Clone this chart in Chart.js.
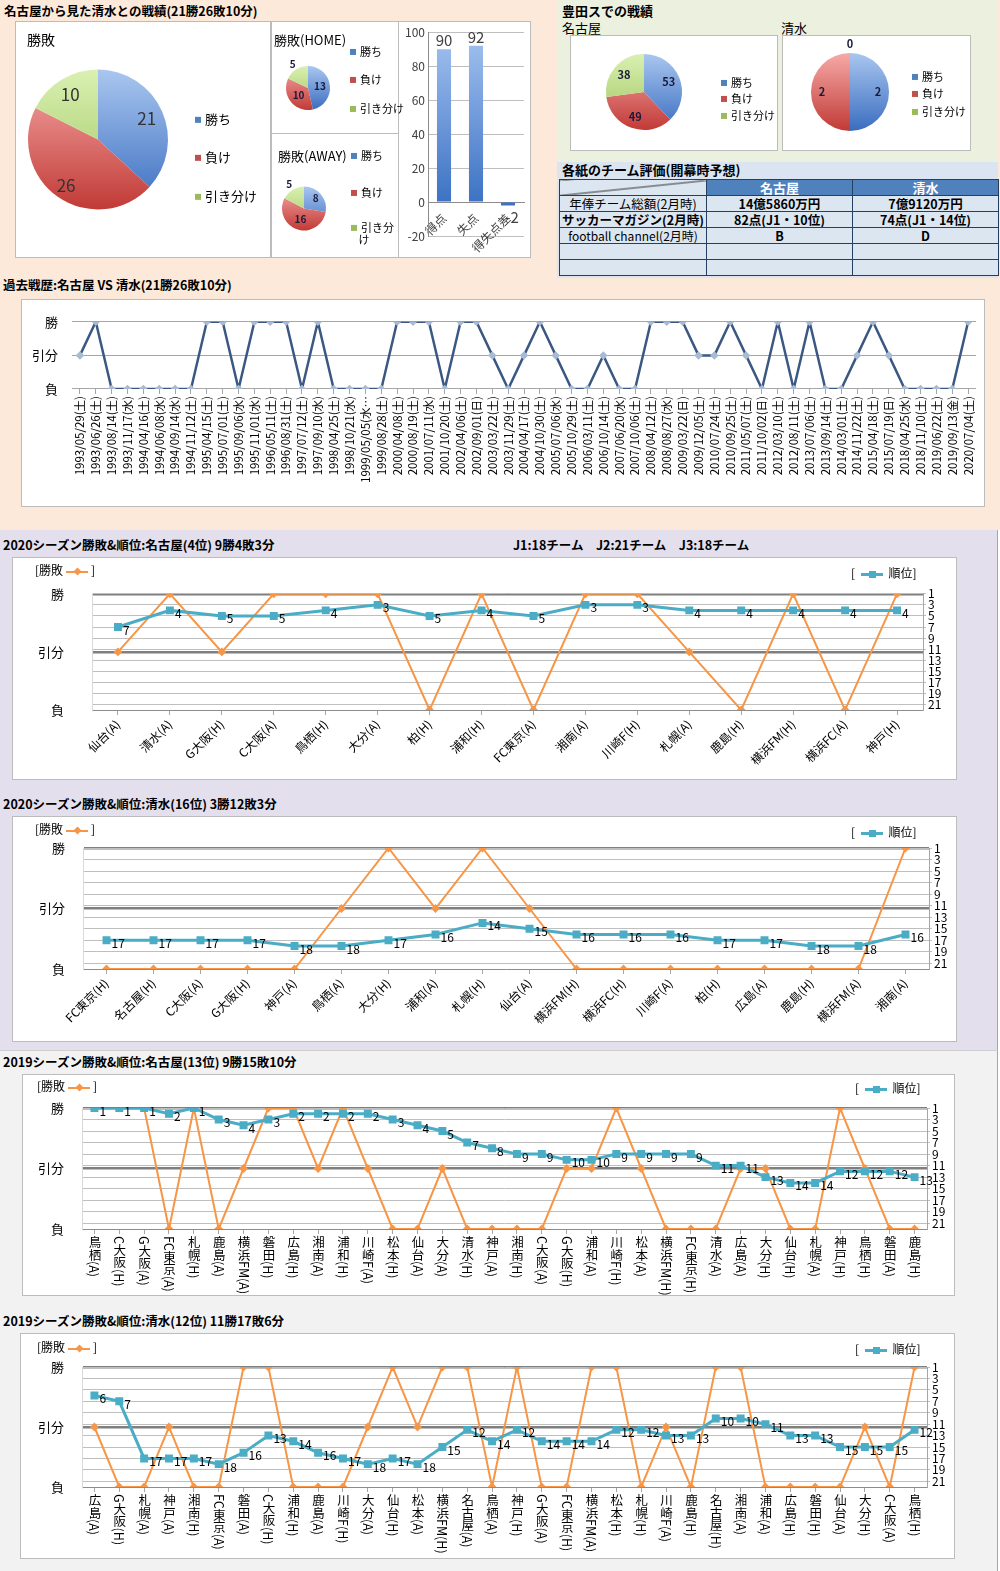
<!DOCTYPE html>
<html lang="ja">
<head>
<meta charset="utf-8">
<title>名古屋 vs 清水 戦績</title>
<script src="https://cdn.jsdelivr.net/npm/chart.js@4.4.0/dist/chart.umd.min.js"></script>
<style>
html, body { margin: 0; padding: 0; background: #fff; }
#page { position: relative; width: 1000px; height: 1571px; overflow: hidden; font-family: "Noto Sans CJK JP", sans-serif; color: #000; }
.band { position: absolute; box-sizing: border-box; }
.box { position: absolute; background: #fff; border: 1px solid #bcbcbc; box-sizing: border-box; }
.cv { position: absolute; left: 0; top: 0; right: 0; bottom: 0; }
.t { position: absolute; white-space: nowrap; line-height: 1; transform: translateY(-50%); }
.ttl { font-weight: bold; font-size: 12.5px; }
.lg i { display: inline-block; width: 6px; height: 6px; margin-right: 4px; vertical-align: 1px; }
.mk { display: inline-block; position: relative; width: 22px; height: 2px; vertical-align: middle; margin: 0 3px; }
.mk::after { content: ""; position: absolute; left: 8px; top: -3px; width: 7px; height: 7px; background: inherit; }
.mk.o { background: #F79646; }
.mk.o::after { transform: rotate(45deg) scale(0.8); }
.mk.b { background: #4BACC6; height: 3px; }
.mk.b::after { top: -2.5px; }
.vlabel { position: absolute; writing-mode: vertical-rl; transform: translateX(-50%); font-size: 12.5px; line-height: 14px; white-space: nowrap; }
#evalTable { position: absolute; left: 559px; top: 179px; width: 439px; border-collapse: collapse; table-layout: fixed; font-size: 12.5px; }
#evalTable td, #evalTable th { border: 1px solid #243F60; background: #DCE6F1; padding: 0; height: 15px; line-height: 15px; text-align: center; white-space: nowrap; overflow: hidden; }
#evalTable th { background: #4F81BD; color: #fff; font-size: 13px; }
#evalTable td.b { font-weight: bold; }
#evalTable td.sm { font-size: 12px; }
#evalTable td.diag { background: linear-gradient(to bottom right, #DCE6F1 calc(50% - 1px), #333 50%, #DCE6F1 calc(50% + 1px)); }
</style>
</head>
<body>
<div id="page">
  <!-- background bands -->
  <div class="band" style="left:0;top:0;width:1000px;height:530px;background:#FDE9D9;"></div>
  <div class="band" style="left:557px;top:0;width:441px;height:162px;background:#EBF1DE;"></div>
  <div class="band" style="left:557px;top:162px;width:441px;height:116px;background:#DBE5F1;"></div>
  <div class="band" style="left:0;top:530px;width:998px;height:520px;background:#E4DFEC;border-right:1px solid #a6a6a6;"></div>
  <div class="band" style="left:0;top:1050px;width:998px;height:521px;background:#F2F2F2;border-right:1px solid #a6a6a6;border-top:1px solid #d0d0d0;"></div>

  <!-- head to head -->
  <div class="t ttl" style="left:4px;top:11px;">名古屋から見た清水との戦績(21勝26敗10分)</div>
  <div class="box" style="left:15px;top:21px;width:256px;height:237px;"><div class="cv"><canvas id="pieAll"></canvas></div></div>
  <div class="box" style="left:271px;top:21px;width:128px;height:113px;"><div class="cv"><canvas id="pieHome"></canvas></div></div>
  <div class="box" style="left:271px;top:133px;width:128px;height:125px;"><div class="cv"><canvas id="pieAway"></canvas></div></div>
  <div class="box" style="left:398px;top:21px;width:133px;height:237px;"><div class="cv"><canvas id="goalBar"></canvas></div></div>
  <div class="t" style="left:27px;top:39px;font-size:14px;">勝敗</div>
  <div class="t" style="left:274px;top:39px;font-size:13px;">勝敗(HOME)</div>
  <div class="t" style="left:278px;top:155px;font-size:13px;">勝敗(AWAY)</div>

  <!-- Toyota stadium -->
  <div class="t ttl" style="left:562px;top:10px;font-size:13px;">豊田スでの戦績</div>
  <div class="t" style="left:562px;top:27px;font-size:13px;">名古屋</div>
  <div class="t" style="left:781px;top:27px;font-size:13px;">清水</div>
  <div class="box" style="left:570px;top:35px;width:208px;height:116px;"><div class="cv"><canvas id="pieToyotaN"></canvas></div></div>
  <div class="box" style="left:782px;top:35px;width:189px;height:116px;"><div class="cv"><canvas id="pieToyotaS"></canvas></div></div>

  <!-- evaluation table -->
  <div class="t ttl" style="left:562px;top:169px;font-size:13px;">各紙のチーム評価(開幕時予想)</div>
  <table id="evalTable">
    <colgroup><col style="width:147px"><col style="width:146px"><col style="width:146px"></colgroup>
    <tr><td class="diag"></td><th>名古屋</th><th>清水</th></tr>
    <tr><td>年俸チーム総額(2月時)</td><td class="b">14億5860万円</td><td class="b">7億9120万円</td></tr>
    <tr><td class="b">サッカーマガジン(2月時)</td><td class="b">82点(J1・10位)</td><td class="b">74点(J1・14位)</td></tr>
    <tr><td class="sm">football channel(2月時)</td><td class="b">B</td><td class="b">D</td></tr>
    <tr><td></td><td></td><td></td></tr>
    <tr><td></td><td></td><td></td></tr>
  </table>

  <!-- past matches -->
  <div class="t ttl" style="left:3px;top:285px;">過去戦歴:名古屋 VS 清水(21勝26敗10分)</div>
  <div class="box" style="left:21px;top:299px;width:964px;height:208px;"><div class="cv"><canvas id="pastChart"></canvas></div></div>

  <!-- 2020 -->
  <div class="t ttl" style="left:3px;top:545px;">2020シーズン勝敗&amp;順位:名古屋(4位) 9勝4敗3分</div>
  <div class="t ttl" style="left:513px;top:545px;">J1:18チーム　J2:21チーム　J3:18チーム</div>
  <div class="box" id="boxN2020" style="left:12px;top:557px;width:945px;height:223px;"><div class="cv"><canvas></canvas></div></div>
  <div class="t" style="left:35px;top:570px;font-size:12px;">[勝敗<span class="mk o"></span>]</div>
  <div class="t" style="left:851px;top:573px;font-size:12px;">[ <span class="mk b"></span> 順位]</div>

  <div class="t ttl" style="left:3px;top:804px;">2020シーズン勝敗&amp;順位:清水(16位) 3勝12敗3分</div>
  <div class="box" id="boxS2020" style="left:12px;top:816px;width:945px;height:226px;"><div class="cv"><canvas></canvas></div></div>
  <div class="t" style="left:35px;top:829px;font-size:12px;">[勝敗<span class="mk o"></span>]</div>
  <div class="t" style="left:851px;top:832px;font-size:12px;">[ <span class="mk b"></span> 順位]</div>

  <!-- 2019 -->
  <div class="t ttl" style="left:3px;top:1062px;">2019シーズン勝敗&amp;順位:名古屋(13位) 9勝15敗10分</div>
  <div class="box" id="boxN2019" style="left:22px;top:1074px;width:933px;height:222px;"><div class="cv"><canvas></canvas></div></div>
  <div class="t" style="left:37px;top:1086px;font-size:12px;">[勝敗<span class="mk o"></span>]</div>
  <div class="t" style="left:855px;top:1088px;font-size:12px;">[ <span class="mk b"></span> 順位]</div>

  <div class="t ttl" style="left:3px;top:1321px;">2019シーズン勝敗&amp;順位:清水(12位) 11勝17敗6分</div>
  <div class="box" id="boxS2019" style="left:20px;top:1333px;width:935px;height:226px;"><div class="cv"><canvas></canvas></div></div>
  <div class="t" style="left:37px;top:1347px;font-size:12px;">[勝敗<span class="mk o"></span>]</div>
  <div class="t" style="left:855px;top:1349px;font-size:12px;">[ <span class="mk b"></span> 順位]</div>
</div>

<script>
/* ---------- data ---------- */
const pieCats = ["勝ち", "負け", "引き分け"];
const allResults = [21, 26, 10];
const homeResults = [13, 10, 5];
const awayResults = [8, 16, 5];
const toyotaNagoya = [53, 49, 38];
const toyotaShimizu = [2, 2, 0];

const goalCats = ["得点", "失点", "得失点差"];
const goalValues = [90, 92, -2];

// 1 = 勝, 0 = 引分, -1 = 負
const resultTicks = [-1, 0, 1];
const resultTickLabels = ["負", "引分", "勝"];
const rankTicks = [1, 3, 5, 7, 9, 11, 13, 15, 17, 19, 21];

const pastDates = [
  "1993/05/29(土)", "1993/06/26(土)", "1993/08/14(土)", "1993/11/17(水)", "1994/04/16(土)",
  "1994/06/08(水)", "1994/09/14(水)", "1994/11/12(土)", "1995/04/15(土)", "1995/07/01(土)",
  "1995/09/06(水)", "1995/11/01(水)", "1996/05/11(土)", "1996/08/31(土)", "1997/07/12(土)",
  "1997/09/10(水)", "1998/04/25(土)", "1998/10/21(水)", "1999/05/05(水…", "1999/08/28(土)",
  "2000/04/08(土)", "2000/08/19(土)", "2001/07/11(水)", "2001/10/20(土)", "2002/04/06(土)",
  "2002/09/01(日)", "2003/03/22(土)", "2003/11/29(土)", "2004/04/17(土)", "2004/10/30(土)",
  "2005/07/06(水)", "2005/10/29(土)", "2006/03/11(土)", "2006/10/14(土)", "2007/06/20(水)",
  "2007/10/06(土)", "2008/04/12(土)", "2008/08/27(水)", "2009/03/22(日)", "2009/12/05(土)",
  "2010/07/24(土)", "2010/09/25(土)", "2011/05/07(土)", "2011/10/02(日)", "2012/03/10(土)",
  "2012/08/11(土)", "2013/07/06(土)", "2013/09/14(土)", "2014/03/01(土)", "2014/11/22(土)",
  "2015/04/18(土)", "2015/07/19(日)", "2018/04/25(水)", "2018/11/10(土)", "2019/06/22(土)",
  "2019/09/13(金)", "2020/07/04(土)"
];
const pastResults = [
  0, 1, -1, -1, -1, -1, -1, -1, 1, 1,
  -1, 1, 1, 1, -1, 1, -1, -1, -1, -1,
  1, 1, 1, -1, 1, 1, 0, -1, 0, 1,
  0, -1, -1, 0, -1, -1, 1, 1, 1, 0,
  0, 1, 0, -1, 1, -1, 1, -1, -1, 0,
  1, 0, -1, -1, -1, -1, 1
];

const nagoya2020Games = ["仙台(A)", "清水(A)", "G大阪(H)", "C大阪(A)", "鳥栖(H)", "大分(A)", "柏(H)", "浦和(H)",
  "FC東京(A)", "湘南(A)", "川崎F(H)", "札幌(A)", "鹿島(H)", "横浜FM(H)", "横浜FC(A)", "神戸(H)"];
const nagoya2020Results = [0, 1, 0, 1, 1, 1, -1, 1, -1, 1, 1, 0, -1, 1, -1, 1];
const nagoya2020Ranks = [7, 4, 5, 5, 4, 3, 5, 4, 5, 3, 3, 4, 4, 4, 4, 4];

const shimizu2020Games = ["FC東京(H)", "名古屋(H)", "C大阪(A)", "G大阪(H)", "神戸(A)", "鳥栖(A)", "大分(H)", "浦和(A)",
  "札幌(H)", "仙台(A)", "横浜FM(H)", "横浜FC(H)", "川崎F(A)", "柏(H)", "広島(A)", "鹿島(H)", "横浜FM(A)", "湘南(A)"];
const shimizu2020Results = [-1, -1, -1, -1, -1, 0, 1, 0, 1, 0, -1, -1, -1, -1, -1, -1, -1, 1];
const shimizu2020Ranks = [17, 17, 17, 17, 18, 18, 17, 16, 14, 15, 16, 16, 16, 17, 17, 18, 18, 16];

const nagoya2019Games = ["鳥栖(A)", "C大阪(H)", "G大阪(A)", "FC東京(A)", "札幌(H)", "鹿島(A)", "横浜FM(A)", "磐田(H)",
  "広島(H)", "湘南(A)", "浦和(H)", "川崎F(A)", "松本(H)", "仙台(A)", "大分(A)", "清水(H)", "神戸(A)", "湘南(H)",
  "C大阪(A)", "G大阪(H)", "浦和(A)", "川崎F(H)", "松本(A)", "横浜FM(H)", "FC東京(H)", "清水(A)", "広島(A)",
  "大分(H)", "仙台(H)", "札幌(A)", "神戸(H)", "鳥栖(H)", "磐田(A)", "鹿島(H)"];
const nagoya2019Results = [1, 1, 1, -1, 1, -1, 0, 1, 1, 0, 1, 0, -1, -1, 0, -1, -1, -1,
  -1, 0, 0, 1, 0, -1, -1, -1, 0, 0, -1, -1, 1, 0, -1, -1];
const nagoya2019Ranks = [1, 1, 1, 2, 1, 3, 4, 3, 2, 2, 2, 2, 3, 4, 5, 7, 8, 9,
  9, 10, 10, 9, 9, 9, 9, 11, 11, 13, 14, 14, 12, 12, 12, 13];

const shimizu2019Games = ["広島(A)", "G大阪(H)", "札幌(A)", "神戸(A)", "湘南(H)", "FC東京(A)", "磐田(A)", "C大阪(H)",
  "浦和(H)", "鹿島(A)", "川崎F(H)", "大分(A)", "仙台(H)", "松本(A)", "横浜FM(H)", "名古屋(A)", "鳥栖(A)", "神戸(H)",
  "G大阪(A)", "FC東京(H)", "横浜FM(A)", "松本(H)", "札幌(H)", "川崎F(A)", "鹿島(H)", "名古屋(H)", "湘南(A)",
  "浦和(A)", "広島(H)", "磐田(H)", "仙台(A)", "大分(H)", "C大阪(A)", "鳥栖(H)"];
const shimizu2019Results = [0, -1, -1, 0, -1, -1, 1, 1, -1, -1, -1, 0, 1, 0, 1, 1, -1, 1,
  -1, -1, 1, 1, -1, 0, -1, 1, 1, -1, -1, -1, -1, 0, -1, 1];
const shimizu2019Ranks = [6, 7, 17, 17, 17, 18, 16, 13, 14, 16, 17, 18, 17, 18, 15, 12, 14, 12,
  14, 14, 14, 12, 12, 13, 13, 10, 10, 11, 13, 13, 15, 15, 15, 12];

/* ---------- common ---------- */
Chart.defaults.font.family = '"Noto Sans CJK JP", sans-serif';
Chart.defaults.color = "#000";
Chart.defaults.animation = false;

const sliceColors = ["#4F81BD", "#C0504D", "#9BBB59"];
const sliceLight = ["#A9C6EF", "#F6AAA8", "#DAF0B2"];
const sliceDark = ["#3A6DC0", "#C13A36", "#9CC45C"];

// numbers on the pie slices
const pieLabelPlugin = {
  id: "pieLabels",
  afterDatasetsDraw(chart, args, opts) {
    const meta = chart.getDatasetMeta(0);
    const data = chart.data.datasets[0].data;
    const ctx = chart.ctx;
    ctx.save();
    ctx.font = opts.font;
    ctx.fillStyle = opts.color;
    ctx.textAlign = "center";
    ctx.textBaseline = "middle";
    meta.data.forEach((arc, i) => {
      const p = arc.getProps(["x", "y", "startAngle", "endAngle", "outerRadius"], true);
      const mid = (p.startAngle + p.endAngle) / 2;
      const f = opts.pos[i];
      ctx.fillText(data[i], p.x + Math.cos(mid) * p.outerRadius * f, p.y + Math.sin(mid) * p.outerRadius * f);
    });
    ctx.restore();
  }
};

function pieFill(c) {
  const ch = c.chart, a = ch.chartArea;
  if (!a) return sliceColors[c.dataIndex];
  const r = ch.options.radius, cy = (a.top + a.bottom) / 2;
  const g = ch.ctx.createLinearGradient(0, cy - r, 0, cy + r);
  g.addColorStop(0, sliceLight[c.dataIndex]);
  g.addColorStop(1, sliceDark[c.dataIndex]);
  return g;
}

function makePie(id, values, radius, pad, labelOpts) {
  return new Chart(document.getElementById(id), {
    type: "pie",
    data: { labels: pieCats, datasets: [{ data: values, backgroundColor: pieFill, borderWidth: 0 }] },
    options: {
      responsive: true, maintainAspectRatio: false, radius: radius,
      layout: { padding: pad },
      plugins: { legend: { display: false }, tooltip: { enabled: false }, pieLabels: labelOpts }
    },
    plugins: [pieLabelPlugin]
  });
}

function pieLegend(left, tops, size, wrapLast) {
  const page = document.getElementById("page");
  pieCats.forEach((name, i) => {
    const d = document.createElement("div");
    d.className = "t lg";
    d.style.left = left + "px";
    d.style.top = tops[i] + "px";
    d.style.fontSize = size + "px";
    d.style.lineHeight = "1.1";
    const txt = (wrapLast && i === 2) ? "引き分<br>&nbsp;&nbsp;&nbsp;け" : name;
    d.innerHTML = '<i style="background:' + sliceColors[i] + '"></i>' + txt;
    page.appendChild(d);
  });
}

/* ---------- pies ---------- */
makePie("pieAll", allResults, 70, { left: 0, right: 90, top: 0, bottom: 0 },
  { font: '17px "Noto Sans CJK JP"', color: "#333", pos: [0.76, 0.8, 0.76] });
makePie("pieHome", homeResults, 22, { left: 0, right: 54, top: 21, bottom: 0 },
  { font: 'bold 10px "Noto Sans CJK JP"', color: "#1a1a3a", pos: [0.55, 0.55, 1.3] });
makePie("pieAway", awayResults, 22, { left: 0, right: 62, top: 26, bottom: 0 },
  { font: 'bold 10px "Noto Sans CJK JP"', color: "#1a1a3a", pos: [0.7, 0.5, 1.3] });
makePie("pieToyotaN", toyotaNagoya, 38, { left: 0, right: 60, top: 0, bottom: 2 },
  { font: 'bold 11px "Noto Sans CJK JP"', color: "#1a1a3a", pos: [0.7, 0.7, 0.7] });
makePie("pieToyotaS", toyotaShimizu, 39, { left: 0, right: 53, top: 0, bottom: 2 },
  { font: 'bold 11px "Noto Sans CJK JP"', color: "#1a1a3a", pos: [0.72, 0.72, 1.23] });

pieLegend(195, [119, 157, 196], 13, false);
pieLegend(350, [51, 79, 108], 11, false);
pieLegend(351, [155, 192, 233], 11, true);
pieLegend(721, [82, 98, 115], 11, false);
pieLegend(912, [76, 93, 111], 11, false);

/* ---------- goals bar ---------- */
const barLabelPlugin = {
  id: "barLabels",
  afterDatasetsDraw(chart) {
    const meta = chart.getDatasetMeta(0);
    const data = chart.data.datasets[0].data;
    const ctx = chart.ctx;
    ctx.save();
    ctx.font = '15px "Noto Sans CJK JP"';
    ctx.fillStyle = "#404040";
    ctx.textAlign = "center";
    meta.data.forEach((bar, i) => {
      if (data[i] >= 0) { ctx.textBaseline = "bottom"; ctx.fillText(data[i], bar.x, bar.y - 1); }
      else { ctx.textBaseline = "top"; ctx.fillText(data[i], bar.x + 4, bar.y + 4); }
    });
    ctx.restore();
  }
};

new Chart(document.getElementById("goalBar"), {
  type: "bar",
  data: {
    labels: goalCats,
    datasets: [{
      data: goalValues,
      borderWidth: 0,
      categoryPercentage: 1,
      barPercentage: 0.44,
      backgroundColor: (c) => {
        const ch = c.chart, a = ch.chartArea;
        if (!a) return "#4F81BD";
        const g = ch.ctx.createLinearGradient(0, a.top, 0, ch.scales.y.getPixelForValue(0));
        g.addColorStop(0, "#A3C2F0");
        g.addColorStop(1, "#3D72C4");
        return g;
      }
    }]
  },
  options: {
    responsive: true, maintainAspectRatio: false,
    layout: { padding: { left: 4, right: 6, top: 9, bottom: 21 } },
    plugins: { legend: { display: false }, tooltip: { enabled: false } },
    scales: {
      x: {
        position: { y: 0 },
        grid: { display: false },
        border: { color: "#8c8c8c" },
        ticks: { minRotation: 45, maxRotation: 45, font: { size: 12 }, color: "#404040", padding: 1 }
      },
      y: {
        min: -20, max: 100,
        ticks: { stepSize: 20, font: { size: 12 }, color: "#404040", padding: 3 },
        grid: { color: "#BFBFBF", drawTicks: false },
        border: { color: "#8c8c8c" },
        afterFit: (s) => { s.width = 25; }
      }
    }
  },
  plugins: [barLabelPlugin]
});

/* ---------- past matches ---------- */
new Chart(document.getElementById("pastChart"), {
  type: "line",
  data: {
    labels: pastDates,
    datasets: [{
      data: pastResults,
      borderColor: "#3B5883",
      borderWidth: 2.5,
      pointStyle: "rectRot",
      pointRadius: 2.5,
      pointBackgroundColor: "#A9BAD3",
      pointBorderColor: "#A9BAD3",
      tension: 0
    }]
  },
  options: {
    responsive: true, maintainAspectRatio: false,
    layout: { padding: { left: 4, right: 1, top: 12, bottom: 5 } },
    plugins: { legend: { display: false }, tooltip: { enabled: false } },
    scales: {
      x: {
        offset: true,
        grid: { drawOnChartArea: false, tickLength: 5, color: "#A6A6A6" },
        border: { display: false },
        ticks: { autoSkip: false, minRotation: 90, maxRotation: 90, font: { size: 11.5 }, color: "#000", padding: 2 },
        afterFit: (s) => { s.height = 112; }
      },
      y: {
        min: -1, max: 1,
        afterBuildTicks: (a) => { a.ticks = resultTicks.map((v) => ({ value: v })); },
        ticks: { callback: (v) => resultTickLabels[resultTicks.indexOf(v)], font: { size: 13 }, padding: 14 },
        grid: { color: "#A6A6A6", drawTicks: false },
        border: { display: false },
        afterFit: (s) => { s.width = 46; }
      }
    }
  }
});

/* ---------- season charts ---------- */
const rankLabelPlugin = {
  id: "rankLabels",
  afterDatasetsDraw(chart) {
    const ctx = chart.ctx;
    chart.data.datasets.forEach((ds, di) => {
      if (!ds.showValues) return;
      const meta = chart.getDatasetMeta(di);
      ctx.save();
      ctx.font = '12px "Noto Sans CJK JP"';
      ctx.fillStyle = "#000";
      ctx.textBaseline = "middle";
      ctx.textAlign = "left";
      meta.data.forEach((pt, i) => ctx.fillText(ds.data[i], pt.x + 5, pt.y + 3));
      ctx.restore();
    });
  }
};

function seasonChart(cfg) {
  const box = document.getElementById(cfg.box);
  const chart = new Chart(box.querySelector("canvas"), {
    type: "line",
    data: {
      labels: cfg.games,
      datasets: [
        {
          label: "順位", data: cfg.ranks, yAxisID: "yr", showValues: true,
          borderColor: "#4BACC6", backgroundColor: "#4BACC6", borderWidth: 3,
          pointStyle: "rect", pointRadius: 3.5, tension: 0
        },
        {
          label: "勝敗", data: cfg.results, yAxisID: "y",
          borderColor: "#F79646", backgroundColor: "#F79646", borderWidth: 2,
          pointStyle: "rectRot", pointRadius: 3, tension: 0
        }
      ]
    },
    options: {
      responsive: true, maintainAspectRatio: false,
      layout: { padding: cfg.pad },
      plugins: { legend: { display: false }, tooltip: { enabled: false } },
      scales: {
        x: {
          offset: true,
          grid: { drawOnChartArea: false, tickLength: 5, color: "#A6A6A6" },
          border: { color: "#8c8c8c" },
          ticks: { display: cfg.rotated, autoSkip: false, minRotation: 45, maxRotation: 45, font: { size: 12 }, padding: 2 },
          afterFit: (s) => { s.height = cfg.xh; }
        },
        y: {
          position: "left", min: -1, max: 1,
          afterBuildTicks: (a) => { a.ticks = resultTicks.map((v) => ({ value: v })); },
          ticks: { callback: (v) => resultTickLabels[resultTicks.indexOf(v)], font: { size: 13 }, padding: cfg.yPad },
          grid: { color: (c) => (c.tick && c.tick.value === -1 ? "rgba(0,0,0,0)" : "#7F7F7F"), lineWidth: 2.5, drawTicks: false },
          border: { color: "#D9D9D9" },
          afterFit: (s) => { s.width = cfg.yl; }
        },
        yr: {
          position: "right", reverse: true, min: 1, max: 22,
          afterBuildTicks: (a) => { a.ticks = rankTicks.map((v) => ({ value: v })); },
          ticks: { autoSkip: false, font: { size: 12, lineHeight: 1 }, padding: 2 },
          grid: { color: "#BFBFBF", lineWidth: 1, tickLength: 3 },
          border: { color: "#A6A6A6" },
          afterFit: (s) => { s.width = cfg.yr; }
        }
      }
    },
    plugins: [rankLabelPlugin]
  });

  // stacked (vertical) category labels, placed from the chart's own x scale
  if (!cfg.rotated) {
    const xs = chart.scales.x;
    cfg.games.forEach((g, i) => {
      const d = document.createElement("div");
      d.className = "vlabel";
      d.textContent = g;
      d.style.left = xs.getPixelForValue(i) + "px";
      d.style.top = (xs.top + 7) + "px";
      box.appendChild(d);
    });
  }
}

seasonChart({ box: "boxN2020", games: nagoya2020Games, results: nagoya2020Results, ranks: nagoya2020Ranks,
  rotated: true, pad: { left: 19, right: 5, top: 32, bottom: 5 }, yl: 60, yr: 28, xh: 64, yPad: 28 });
seasonChart({ box: "boxS2020", games: shimizu2020Games, results: shimizu2020Results, ranks: shimizu2020Ranks,
  rotated: true, pad: { left: 10, right: 3, top: 31, bottom: 6 }, yl: 60, yr: 24, xh: 66, yPad: 18 });
seasonChart({ box: "boxN2019", games: nagoya2019Games, results: nagoya2019Results, ranks: nagoya2019Ranks,
  rotated: false, pad: { left: 7, right: 3, top: 33, bottom: 6 }, yl: 52, yr: 24, xh: 60, yPad: 18 });
seasonChart({ box: "boxS2019", games: shimizu2019Games, results: shimizu2019Results, ranks: shimizu2019Ranks,
  rotated: false, pad: { left: 9, right: 3, top: 33, bottom: 7 }, yl: 52, yr: 24, xh: 64, yPad: 18 });
</script>
</body>
</html>
